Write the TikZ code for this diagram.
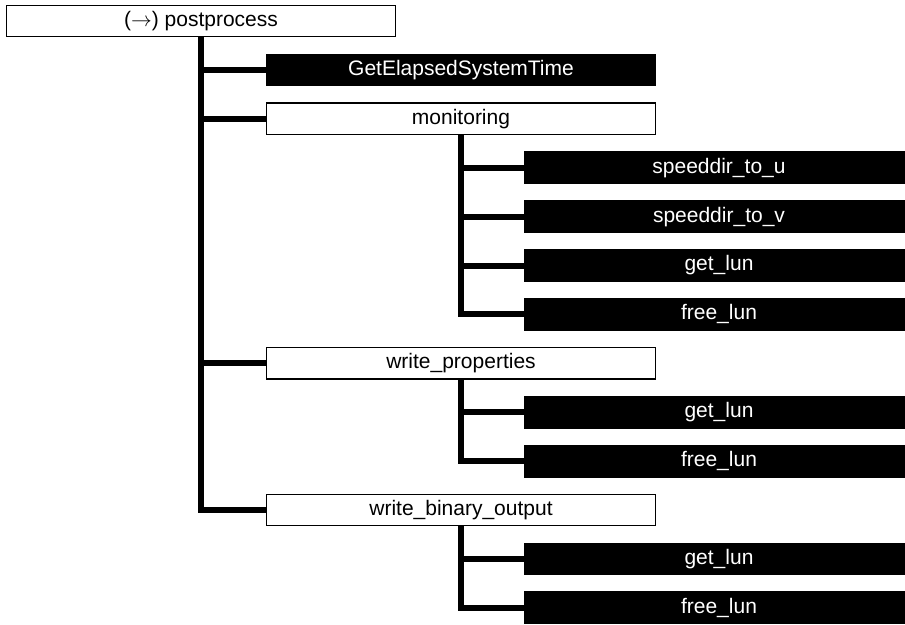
\documentclass[tikz,border=0pt]{standalone}
\usepackage{fontspec}
\setmainfont{Liberation Sans}
\begin{document}
\begin{tikzpicture}[x=1pt,y=-1pt,
  box/.style={draw=black,line width=1.3pt,rectangle,minimum width=389.5pt,minimum height=31.5pt,anchor=north west,inner sep=0pt,font=\fontsize{21}{24}\selectfont},
  wbox/.style={box,fill=white,text=black},
  bbox/.style={box,fill=black,text=white},
  link/.style={line width=6pt,black}]
\useasboundingbox (0,0) rectangle (905,624);
\clip (0,0) rectangle (905,624);
\fill[white] (0,0) rectangle (905,624);
% nodes
\node[wbox] (root) at (5.6,4.6) {($\rightarrow$) postprocess};
\node[bbox] (gest) at (265.6,53.5) {GetElapsedSystemTime};
\node[wbox] (mon) at (265.6,102.4) {monitoring};
\node[bbox] (su) at (523.6,151.3) {speeddir\_to\_u};
\node[bbox] (sv) at (523.6,200.2) {speeddir\_to\_v};
\node[bbox] (gl1) at (523.6,249.1) {get\_lun};
\node[bbox] (fl1) at (523.6,298) {free\_lun};
\node[wbox] (wp) at (265.6,346.9) {write\_properties};
\node[bbox] (gl2) at (523.6,395.8) {get\_lun};
\node[bbox] (fl2) at (523.6,444.7) {free\_lun};
\node[wbox] (wb) at (265.6,493.6) {write\_binary\_output};
\node[bbox] (gl3) at (523.6,542.5) {get\_lun};
\node[bbox] (fl3) at (523.6,591.4) {free\_lun};
% connectors
\draw[link] (root.south) |- (gest.west);
\draw[link] (root.south) |- (mon.west);
\draw[link] (root.south) |- (wp.west);
\draw[link] (root.south) |- (wb.west);
\draw[link] (mon.south) |- (su.west);
\draw[link] (mon.south) |- (sv.west);
\draw[link] (mon.south) |- (gl1.west);
\draw[link] (mon.south) |- (fl1.west);
\draw[link] (wp.south) |- (gl2.west);
\draw[link] (wp.south) |- (fl2.west);
\draw[link] (wb.south) |- (gl3.west);
\draw[link] (wb.south) |- (fl3.west);
\end{tikzpicture}
\end{document}
